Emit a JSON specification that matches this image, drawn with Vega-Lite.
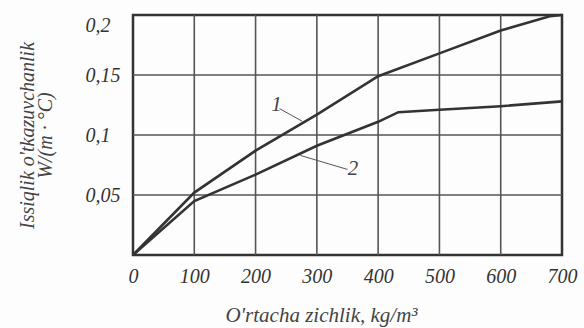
{
  "$schema": "https://vega.github.io/schema/vega-lite/v6.json",
  "width": 429,
  "height": 240,
  "autosize": {"type": "none"},
  "padding": {"left": 133, "top": 15, "right": 22, "bottom": 73},
  "background": "#fdfdfd",
  "config": {
    "view": {"stroke": "#333", "strokeWidth": 2.5},
    "axis": {
      "grid": false,
      "labelFont": "Liberation Serif",
      "labelFontStyle": "italic",
      "labelFontSize": 20,
      "labelColor": "#333",
      "titleFont": "Liberation Serif",
      "titleFontStyle": "italic",
      "titleFontWeight": "normal",
      "titleFontSize": 20,
      "titleColor": "#444",
      "domain": false,
      "ticks": false
    }
  },
  "datasets": {
    "curves": [
      {"rho": 0, "k": 0.0, "curve": "1"},
      {"rho": 100, "k": 0.052, "curve": "1"},
      {"rho": 200, "k": 0.087, "curve": "1"},
      {"rho": 300, "k": 0.117, "curve": "1"},
      {"rho": 400, "k": 0.149, "curve": "1"},
      {"rho": 500, "k": 0.168, "curve": "1"},
      {"rho": 600, "k": 0.187, "curve": "1"},
      {"rho": 680, "k": 0.199, "curve": "1"},
      {"rho": 700, "k": 0.2, "curve": "1"},
      {"rho": 0, "k": 0.0, "curve": "2"},
      {"rho": 100, "k": 0.045, "curve": "2"},
      {"rho": 200, "k": 0.067, "curve": "2"},
      {"rho": 300, "k": 0.091, "curve": "2"},
      {"rho": 400, "k": 0.111, "curve": "2"},
      {"rho": 433, "k": 0.119, "curve": "2"},
      {"rho": 500, "k": 0.121, "curve": "2"},
      {"rho": 600, "k": 0.124, "curve": "2"},
      {"rho": 700, "k": 0.128, "curve": "2"}
    ],
    "gridX": [{"rho": 100}, {"rho": 200}, {"rho": 300}, {"rho": 400}, {"rho": 500}, {"rho": 600}],
    "gridY": [{"k": 0.05}, {"k": 0.1}, {"k": 0.15}],
    "labels": [
      {"label": "1", "rho": 234, "k": 0.125},
      {"label": "2", "rho": 359, "k": 0.0717}
    ],
    "leaders": [
      {"rho": 239, "k": 0.122, "rho2": 276, "k2": 0.1115},
      {"rho": 350, "k": 0.0713, "rho2": 273, "k2": 0.083}
    ]
  },
  "layer": [
    {
      "data": {"name": "gridX"},
      "mark": {"type": "rule", "color": "#555", "strokeWidth": 1.6},
      "encoding": {
        "x": {"field": "rho", "type": "quantitative"}
      }
    },
    {
      "data": {"name": "gridY"},
      "mark": {"type": "rule", "color": "#555", "strokeWidth": 1.6},
      "encoding": {
        "y": {"field": "k", "type": "quantitative"}
      }
    },
    {
      "data": {"name": "curves"},
      "mark": {"type": "line", "strokeWidth": 2.6, "color": "#333"},
      "encoding": {
        "x": {
          "field": "rho", "type": "quantitative",
          "scale": {"domain": [0, 700], "nice": false},
          "axis": {
            "values": [0, 100, 200, 300, 400, 500, 600, 700],
            "labelFlush": false,
            "labelPadding": 11, "labelBaseline": "top",
            "title": "O'rtacha zichlik, kg/m³",
            "titleFontSize": 21,
            "titleX": 188, "titleAlign": "center",
            "titlePadding": 18
          }
        },
        "y": {
          "field": "k", "type": "quantitative",
          "scale": {"domain": [0, 0.2], "nice": false},
          "axis": {
            "values": [0, 0.05, 0.1, 0.15, 0.2],
            "labelExpr": "datum.value == 0 ? '' : replace(format(datum.value, '.2~f'), '.', ',')",
            "labelAlign": "left",
            "labelPadding": 48,
            "labelFlush": true,
            "title": ["Issiqlik o'tkazuvchanlik", "W/(m · °C)"],
            "titlePadding": 30,
            "titleFontSize": 20,
            "titleLineHeight": 18
          }
        },
        "detail": {"field": "curve"}
      }
    },
    {
      "data": {"name": "leaders"},
      "mark": {"type": "rule", "color": "#555", "strokeWidth": 1},
      "encoding": {
        "x": {"field": "rho", "type": "quantitative"},
        "y": {"field": "k", "type": "quantitative"},
        "x2": {"field": "rho2"},
        "y2": {"field": "k2"}
      }
    },
    {
      "data": {"name": "labels"},
      "mark": {"type": "text", "font": "Liberation Serif", "fontStyle": "italic", "fontSize": 21, "color": "#444"},
      "encoding": {
        "x": {"field": "rho", "type": "quantitative"},
        "y": {"field": "k", "type": "quantitative"},
        "text": {"field": "label"}
      }
    }
  ]
}
